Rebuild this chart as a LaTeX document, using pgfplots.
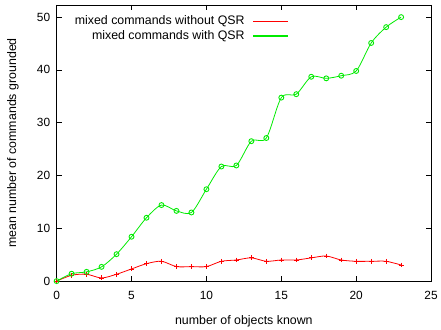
\documentclass[border=0pt]{standalone}
\usepackage{pgfplots}
\pgfplotsset{compat=1.18}
\usepackage{fontspec}
\setmainfont{Liberation Sans}
\definecolor{gpred}{RGB}{255,0,0}
\definecolor{gpgreen}{RGB}{0,235,0}
\begin{document}
\begin{tikzpicture}
\begin{axis}[
  at={(0,0)}, anchor=south west,
  scale only axis,
  width=377bp, height=278bp,
  xmin=0, xmax=25, ymin=0, ymax=52.3,
  xtick={0,5,10,15,20,25},
  ytick={0,10,20,30,40,50},
  tick align=inside,
  major tick length=5bp,
  tick style={black, line width=0.5pt},
  axis line style={black, line width=0.6pt},
  /pgf/number format/assume math mode=true,
  tick label style={font=\fontsize{12}{14}\selectfont},
  xticklabel style={anchor=center, yshift=-14bp},
  yticklabel style={anchor=east, xshift=-3bp},
  label style={font=\fontsize{12.5}{15}\selectfont},
  xlabel={number of objects known},
  ylabel={mean number of commands grounded},
  xlabel style={at={(axis description cs:0.5,0)}, anchor=center, yshift=-40bp},
  ylabel style={at={(axis description cs:0,0.5)}, anchor=center, yshift=44bp},
  legend style={draw=none, fill=none, at={(axis description cs:0.035,0.975)}, anchor=north west,
    font=\fontsize{12.5}{15}\selectfont, row sep=0bp,
    /tikz/every odd column/.append style={column sep=6bp}},
  legend cell align=right,
  legend plot pos=right,
  legend image code/.code={\fill[#1] (0bp,-0.45pt) rectangle (35bp,0.45pt);},
]
\addlegendimage{fill=gpred, color=gpred}
\addlegendentry{mixed commands without QSR}
\addlegendimage{fill=gpgreen, color=gpgreen}
\addlegendentry{mixed commands with QSR}
\addplot[forget plot, draw=gpred, color=gpred, line width=0.8pt, smooth, mark=+, mark size=2.5pt, mark options={line width=0.8pt}] coordinates {
(0,0) (1,1.1) (2,1.3) (3,0.6) (4,1.3) (5,2.3) (6,3.3) (7,3.75) (8,2.75) (9,2.75) (10,2.75) (11,3.75) (12,4.0) (13,4.4) (14,3.75) (15,4.0) (16,4.0) (17,4.4) (18,4.75) (19,4.0) (20,3.75) (21,3.75) (22,3.75) (23,3.05)
};
\addplot[forget plot, draw=gpgreen, color=gpgreen, line width=0.8pt, smooth, mark=o, mark size=2.5pt, mark options={line width=0.9pt, fill=gpgreen!40}] coordinates {
(0,0) (1,1.4) (2,1.75) (3,2.7) (4,5.1) (5,8.4) (6,12.0) (7,14.4) (8,13.3) (9,13.0) (10,17.4) (11,21.7) (12,21.9) (13,26.5) (14,27.1) (15,34.75) (16,35.4) (17,38.7) (18,38.4) (19,38.9) (20,39.8) (21,45.1) (22,48.1) (23,50.0)
};
\end{axis}
\useasboundingbox (-57bp,-45bp) rectangle (384bp,283bp);
\end{tikzpicture}
\end{document}
